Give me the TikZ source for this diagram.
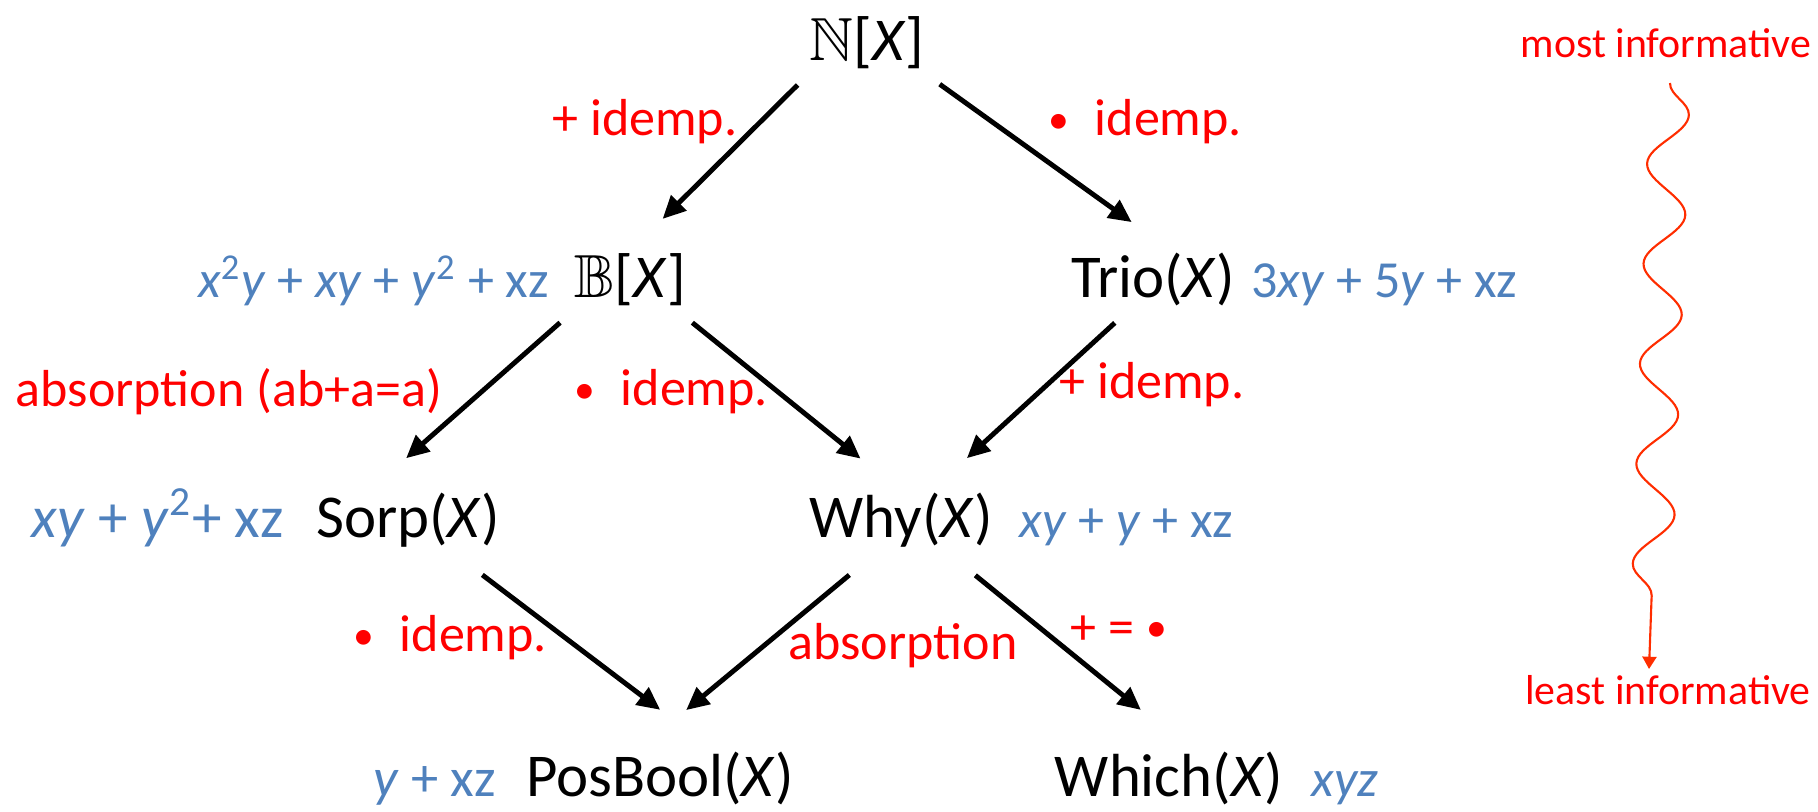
\documentclass[tikz,border=0pt]{standalone}
\usepackage{amssymb}
\usepackage{graphicx}
\usepackage{fontspec}
\setmainfont{Carlito}
\usetikzlibrary{arrows.meta,positioning,decorations.pathmorphing}
\definecolor{lawred}{RGB}{255,0,0}
\definecolor{polyblue}{RGB}{79,129,189}
\definecolor{wavered}{RGB}{255,45,0}
\tikzset{
  ring/.style={
    inner sep=0pt,
    text height=13pt,
    text depth=3.5pt,
    font=\fontsize{17.3}{20}\selectfont
  },
  law/.style={text=lawred, inner sep=0pt, font=\fontsize{14.8}{17}\selectfont},
  poly/.style={text=polyblue, inner sep=0pt, font=\fontsize{14.8}{17}\selectfont},
  info/.style={text=lawred, inner sep=0pt, font=\fontsize{11.9}{14}\selectfont},
  hom/.style={-{Triangle[length=6.5pt,width=6pt]}, line width=1.4pt},
  infoline/.style={
    draw=wavered, line width=0.6pt,
    -{Triangle[length=3.5pt,width=4pt]},
    decorate,
    decoration={snake, amplitude=2mm, segment length=10mm, post length=2.5mm}
  },
}
\newcommand{\Xv}{\textit{X}}
\newcommand{\mdot}{\raisebox{0.05em}{\scalebox{0.8}{•}}}

\begin{document}
\begin{tikzpicture}[x=0.01cm,y=-0.01cm]
  \useasboundingbox (0,0) rectangle (1818,811);
  % semirings
  \node[ring] (NX) at (867,44) {$\mathbb{N}$[\Xv]};
  \node[ring] (BX) at (630,281) {$\mathbb{B}$[\Xv]};
  \node[ring] (Trio) at (1153,281) {Trio(\Xv)};
  \node[ring] (Sorp) at (408,521) {Sorp(\Xv)};
  \node[ring] (Why) at (901,521) {Why(\Xv)};
  \node[ring] (PosBool) at (660,780) {PosBool(\Xv)};
  \node[ring] (Which) at (1169,780) {Which(\Xv)};

  % example polynomials
  \node[poly, base left=2.4mm of BX] (pBX) {\textit{x}\textsuperscript{2}\textit{y} + \textit{xy} + \textit{y}\textsuperscript{2} + xz};
  \node[poly, base right=1.5mm of Trio] (pTrio) {3\textit{xy} + 5\textit{y} + xz};
  \node[poly, base left=3.1mm of Sorp, font=\fontsize{16.8}{19}\selectfont] (pSorp) {\textit{xy} + \textit{y}\textsuperscript{2}+ xz};
  \node[poly, base right=2.6mm of Why] (pWhy) {\textit{xy} + \textit{y} + xz};
  \node[poly, base left=2.9mm of PosBool, font=\fontsize{15.5}{17}\selectfont] (pPosBool) {\textit{y} + xz};
  \node[poly, base right=2.7mm of Which] (pWhich) {\textit{xyz}};

  % laws
  \node[law] (lNB) at (645,122) {+ idemp.};
  \node[law] (lNT) at (1145,122) {\mdot\hspace{0.5em}idemp.};
  \node[law] (lBS) at (229,392) {absorption (ab+a=a)};
  \node[law] (lBW) at (671,392) {\mdot\hspace{0.5em}idemp.};
  \node[law] (lTW) at (1152,385) {+ idemp.};
  \node[law] (lSP) at (450,638) {\mdot\hspace{0.5em}idemp.};
  \node[law] (lWP) at (903,646) {absorption};
  \node[law] (lWW) at (1119,630) {+ = \mdot};

  \draw[hom, shorten <=0.16cm, shorten >=0.46cm] (NX.south west) -- (BX.north);
  \draw[hom, shorten <=0.18cm, shorten >=0.50cm] (NX.south east) -- (Trio.57);
  \draw[hom, shorten <=0.18cm, shorten >=0.50cm] (BX.south west) -- (Sorp.143);
  \draw[hom, shorten <=0.19cm, shorten >=0.52cm] (BX.-32) -- (Why.north);
  \draw[hom, shorten <=0.18cm, shorten >=0.49cm] (Trio.-130) -- (Why.45);
  \draw[hom, shorten <=0.40cm, shorten >=0.67cm] (Sorp.-35) -- (PosBool.29);
  \draw[hom, shorten <=0.38cm, shorten >=0.63cm] (Why.-127) -- (PosBool.127);
  \draw[hom, shorten <=0.39cm, shorten >=0.64cm] (Why.-34) -- (Which.54);

  % informativeness scale
  \node[info] (most) at (1666,43) {most informative};
  \node[info] (least) at (1668,690) {least informative};
  \coordinate (wtop) at (1670,83);
  \coordinate (wbot) at (1649,669);
  \draw[infoline] (wtop) -- (wbot);
\end{tikzpicture}
\end{document}
